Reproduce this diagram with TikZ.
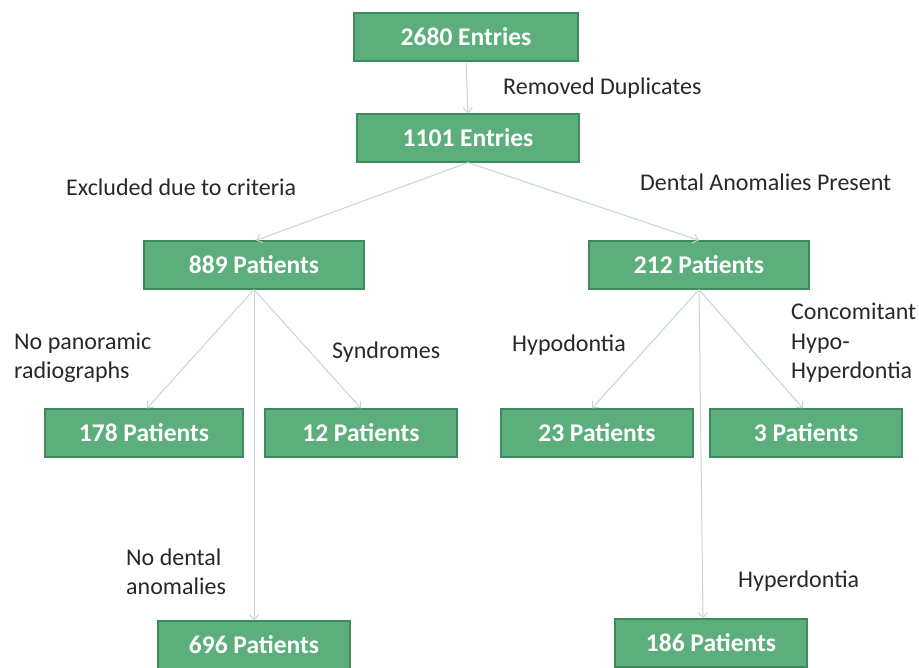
\documentclass[tikz,border=0pt]{standalone}
\usepackage{fontspec}
\setmainfont{Carlito}
\usetikzlibrary{arrows.meta,calc}
\definecolor{boxfill}{RGB}{92,174,124}
\definecolor{boxedge}{RGB}{62,138,92}
\definecolor{arrowc}{RGB}{192,217,202}
\definecolor{labc}{RGB}{40,40,40}
\tikzset{
  box/.style={draw=boxedge, line width=1.2pt, fill=boxfill, text=white,
    font=\fontsize{25.5}{28}\selectfont\bfseries, minimum height=48pt, inner sep=0pt},
  conn/.style={draw=arrowc, line width=1pt, -{Straight Barb[length=5pt,width=9pt]}},
  lab/.style={text=labc, font=\fontsize{24}{29.5}\selectfont, anchor=west, align=left, inner sep=0pt}
}
\begin{document}
\begin{tikzpicture}[x=1pt,y=-1pt]
\useasboundingbox (0,0) rectangle (919,668);
\node[box, minimum width=224pt] (e2680) at (466,37) {2680 Entries};
\node[box, minimum width=222pt] (e1101) at (468,138) {1101 Entries};
\node[box, minimum width=220pt] (p889) at (254,265) {889 Patients};
\node[box, minimum width=220pt] (p212) at (699,265) {212 Patients};
\node[box, minimum width=198pt] (p178) at (144,433) {178 Patients};
\node[box, minimum width=192pt] (p12) at (361,433) {12 Patients};
\node[box, minimum width=192pt] (p23) at (597,433) {23 Patients};
\node[box, minimum width=192pt] (p3) at (806,433) {3 Patients};
\node[box, minimum width=192pt] (p696) at (254,645) {696 Patients};
\node[box, minimum width=192pt] (p186) at (711,643) {186 Patients};

\draw[conn] (e2680.south) -- (e1101.north);
\draw[conn] (e1101.south) -- ($(p889.north)+(2,0)$);
\draw[conn] (e1101.south) -- (p212.north);
\draw[conn] (p889.south) -- ($(p178.north)+(3,0)$);
\draw[conn] (p889.south) -- (p12.north);
\draw[conn] (p889.south) -- (p889.south |- p696.north);
\draw[conn] (p212.south) -- ($(p23.north)+(-5,0)$);
\draw[conn] (p212.south) -- ($(p3.north)+(-3,0)$);
\draw[conn] (p212.south) -- ($(p186.north)+(-8,0)$);

\node[lab] (l1) at (503,88) {Removed Duplicates};
\node[lab] (l2) at (66,187) {Excluded due to criteria};
\node[lab] (l3) at (640,182) {Dental Anomalies Present};
\node[lab] (l4) at (14,358) {No panoramic\\radiographs};
\node[lab] (l5) at (332,352) {Syndromes};
\node[lab] (l6) at (512,345) {Hypodontia};
\node[lab] (l7) at (791,343) {Concomitant\\Hypo-\\Hyperdontia};
\node[lab] (l8) at (126,572) {No dental\\anomalies};
\node[lab] (l9) at (738,581) {Hyperdontia};
\end{tikzpicture}
\end{document}
